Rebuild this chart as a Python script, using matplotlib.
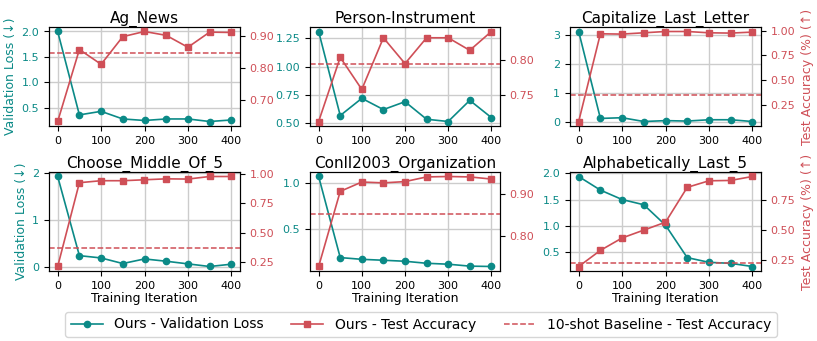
import matplotlib
matplotlib.use("Agg")
import matplotlib.pyplot as plt
from matplotlib.ticker import MultipleLocator, FormatStrFormatter
from matplotlib.lines import Line2D

iters = [0, 50, 100, 150, 200, 250, 300, 350, 400]
titles = ["Ag_News", "Person-Instrument", "Capitalize_Last_Letter",
          "Choose_Middle_Of_5", "Conll2003_Organization", "Alphabetically_Last_5"]

loss_ag = [2.00, 0.36, 0.43, 0.28, 0.25, 0.28, 0.28, 0.23, 0.26]
acc_ag = [0.634, 0.858, 0.812, 0.898, 0.914, 0.902, 0.865, 0.912, 0.911]
base_ag = 0.847

loss_pi = [1.312, 0.565, 0.718, 0.618, 0.688, 0.532, 0.512, 0.700, 0.547]
acc_pi = [0.712, 0.804, 0.758, 0.832, 0.795, 0.832, 0.832, 0.814, 0.841]
base_pi = 0.795

loss_cap = [3.12, 0.135, 0.16, 0.03, 0.06, 0.045, 0.09, 0.09, 0.03]
acc_cap = [0.088, 0.967, 0.964, 0.977, 0.990, 0.990, 0.977, 0.974, 0.984]
base_cap = 0.356

loss_cm = [1.93, 0.245, 0.196, 0.077, 0.175, 0.126, 0.07, 0.014, 0.063]
acc_cm = [0.21, 0.927, 0.944, 0.944, 0.952, 0.960, 0.958, 0.980, 0.980]
base_cm = 0.365

loss_co = [1.075, 0.193, 0.174, 0.164, 0.153, 0.131, 0.121, 0.100, 0.096]
acc_co = [0.729, 0.906, 0.928, 0.926, 0.929, 0.940, 0.941, 0.940, 0.935]
base_co = 0.852

loss_al = [1.94, 1.68, 1.50, 1.40, 1.01, 0.39, 0.30, 0.28, 0.22]
acc_al = [0.195, 0.33, 0.434, 0.50, 0.566, 0.858, 0.913, 0.916, 0.949]
base_al = 0.225

losses = [loss_ag, loss_pi, loss_cap, loss_cm, loss_co, loss_al]
accs = [acc_ag, acc_pi, acc_cap, acc_cm, acc_co, acc_al]
bases = [base_ag, base_pi, base_cap, base_cm, base_co, base_al]

left_steps = [0.5, 0.25, 1, 1, 0.5, 0.5]
left_fmt = ["%.1f", "%.2f", "%d", "%d", "%.1f", "%.1f"]
right_steps = [0.1, 0.05, 0.25, 0.25, 0.1, 0.25]

teal = "#0b8a87"
red = "#cf4f57"

W, H = 817, 341
fig = plt.figure(figsize=(W / 100, H / 100), dpi=100)

lefts = [49, 310, 570]
widths = [191, 190, 191]
tops = [27, 172]
ah = 99

for i in range(6):
    r, c = divmod(i, 3)
    ax = fig.add_axes([lefts[c] / W, 1 - (tops[r] + ah) / H, widths[c] / W, ah / H])
    ax2 = ax.twinx()
    ax.plot(iters, losses[i], color=teal, marker="o", markersize=4.5, linewidth=1.2, zorder=3)
    ax2.plot(iters, accs[i], color=red, marker="s", markersize=4.5, linewidth=1.2, zorder=3)
    ax2.axhline(bases[i], color=red, linestyle="--", linewidth=1.1)
    ax.set_title(titles[i], fontsize=11, pad=3)
    ax.grid(True, color="#cccccc", linewidth=1)
    ax.set_axisbelow(True)
    ax.set_xticks([0, 100, 200, 300, 400])
    ax.yaxis.set_major_locator(MultipleLocator(left_steps[i]))
    ax.yaxis.set_major_formatter(FormatStrFormatter(left_fmt[i]))
    ax2.yaxis.set_major_locator(MultipleLocator(right_steps[i]))
    ax2.yaxis.set_major_formatter(FormatStrFormatter("%.2f"))
    ax.tick_params(axis="y", labelcolor=teal, labelsize=8, color="black", length=3.5)
    ax.tick_params(axis="x", labelsize=8, length=3.5)
    ax2.tick_params(axis="y", labelcolor=red, labelsize=8, color="black", length=3.5)
    if c == 0:
        ax.set_ylabel("Validation Loss (↓)", color=teal, fontsize=9, labelpad=3)
    if c == 2:
        ax2.set_ylabel("Test Accuracy (%) (↑)", color=red, fontsize=9, labelpad=4)
    if r == 1:
        ax.set_xlabel("Training Iteration", fontsize=9, labelpad=1)

handles = [
    Line2D([], [], color=teal, marker="o", markersize=4.5, linewidth=1.2),
    Line2D([], [], color=red, marker="s", markersize=4.5, linewidth=1.2),
    Line2D([], [], color=red, linestyle="--", linewidth=1.1),
]
labels = ["Ours - Validation Loss", "Ours - Test Accuracy", "10-shot Baseline - Test Accuracy"]
fig.legend(handles, labels, loc="center", bbox_to_anchor=(421 / W, 1 - 324.5 / H),
           ncol=3, fontsize=10, frameon=True, columnspacing=2.0, handlelength=2.3)

fig.savefig("out.png", dpi=100)
